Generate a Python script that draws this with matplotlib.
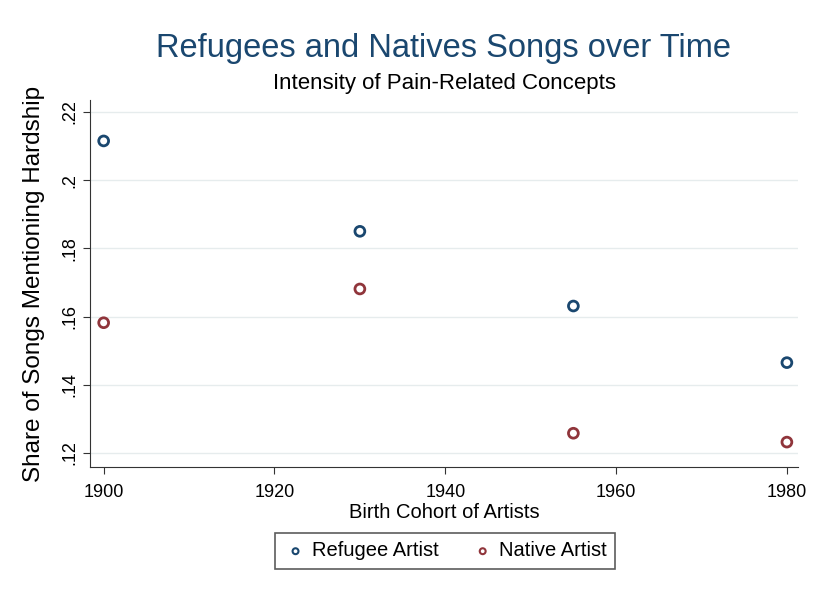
import matplotlib
matplotlib.use("Agg")
import matplotlib.pyplot as plt

plt.rcParams['font.family'] = ['Liberation Sans', 'DejaVu Sans']

cohorts = [1900, 1930, 1955, 1980]
refugee = [0.2115, 0.185, 0.1631, 0.1465]
native = [0.1582, 0.1681, 0.1258, 0.1232]
yticks = [0.12, 0.14, 0.16, 0.18, 0.2, 0.22]
ytick_labels = ['.12', '.14', '.16', '.18', '.2', '.22']
xticks = [1900, 1920, 1940, 1960, 1980]

blue = '#1a476f'
red = '#90353b'

fig = plt.figure(figsize=(8.15, 5.95), dpi=100)
ax = fig.add_axes([90 / 815, 1 - 467 / 595, 708 / 815, 367 / 595])

ax.scatter(cohorts, refugee, s=50, facecolors='none', edgecolors=blue,
           linewidths=2, label='Refugee Artist', zorder=3)
ax.scatter(cohorts, native, s=50, facecolors='none', edgecolors=red,
           linewidths=2, label='Native Artist', zorder=3)

ax.set_xlim(1898.4, 1981.3)
ax.set_ylim(0.1159, 0.2235)
ax.set_yticks(yticks)
ax.set_yticklabels(ytick_labels, rotation=90, va='center')
ax.set_xticks(xticks)
ax.tick_params(labelsize=13, length=5, color='#333333')
ax.tick_params(axis='x', pad=7)
ax.grid(axis='y', color='#e6eced', linewidth=1)
ax.set_axisbelow(True)
for s in ['top', 'right']:
    ax.spines[s].set_visible(False)
for s in ['left', 'bottom']:
    ax.spines[s].set_color('#333333')

ax.set_ylabel('Share of Songs Mentioning Hardship', fontsize=17.5, labelpad=12)
ax.set_xlabel('Birth Cohort of Artists', fontsize=14.5, labelpad=2)

fig.text(443 / 815, 1 - 48 / 595, 'Refugees and Natives Songs over Time',
         fontsize=23.5, color=blue, ha='center', va='center')
fig.text(445 / 815, 1 - 83 / 595, 'Intensity of Pain-Related Concepts',
         fontsize=16, color='black', ha='center', va='center')

leg = fig.legend(loc='center', bbox_to_anchor=(445 / 815, 1 - 551 / 595), ncol=2,
                 fontsize=14.5, frameon=True, fancybox=False, edgecolor='#333333',
                 handletextpad=0.2, columnspacing=1.6, borderpad=0.4,
                 handlelength=1.2, markerscale=0.6)
leg.get_frame().set_linewidth(1.2)
for h in leg.legend_handles:
    h.set_linewidth(1.5)

plt.savefig('out.png', dpi=100)
